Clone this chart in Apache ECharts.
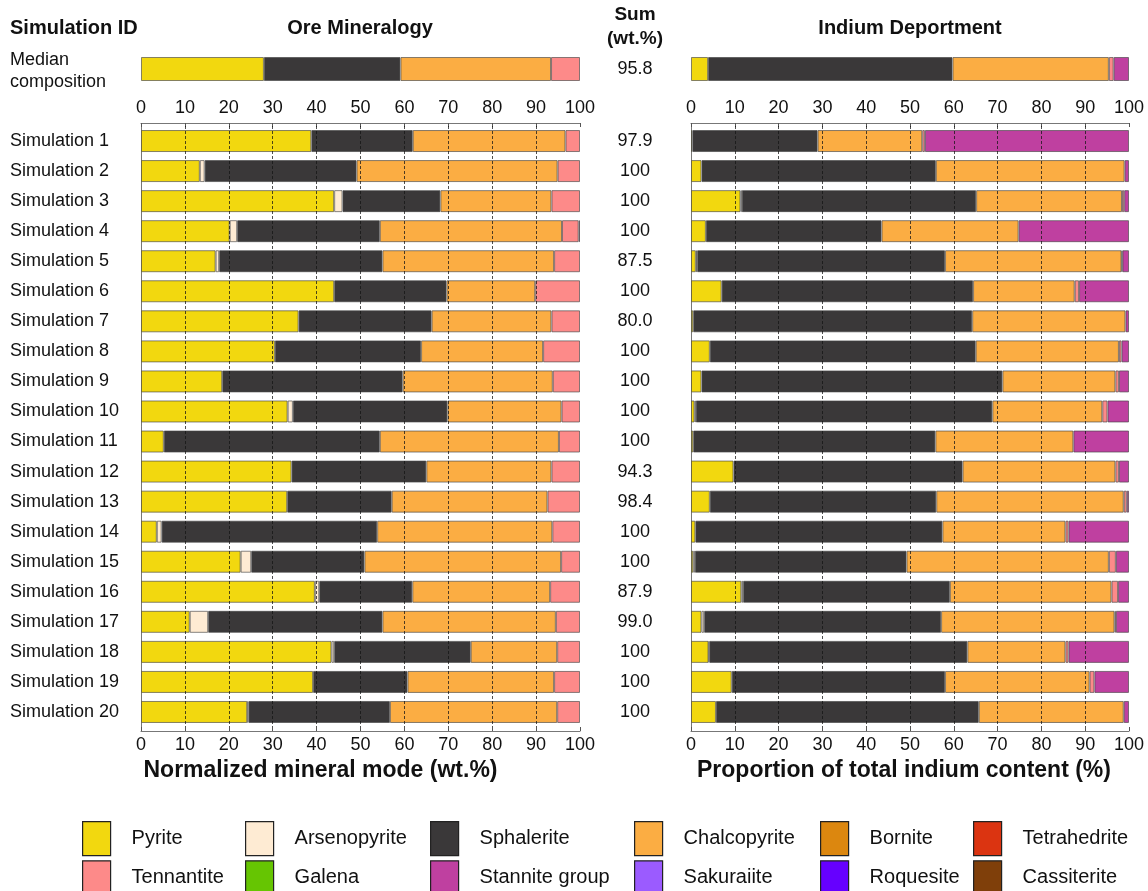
<!DOCTYPE html>
<html>
<head>
<meta charset="utf-8">
<script src="https://cdn.jsdelivr.net/npm/echarts@6/dist/echarts.min.js"></script>
<style>
  html, body { margin: 0; padding: 0; background: #fff; }
  #chart { width: 1148px; height: 891px; }
</style>
</head>
<body>
<div id="chart"></div>
<script>
// Mineral classes, in stacking order
const minerals = ['Pyrite', 'Arsenopyrite', 'Sphalerite', 'Chalcopyrite', 'Bornite', 'Tetrahedrite',
                  'Tennantite', 'Galena', 'Stannite group', 'Sakuraiite', 'Roquesite', 'Cassiterite'];
const mineralColors = ['#F2D80F', '#FEEBD3', '#3A3839', '#FBAD43', '#DC870F', '#DB3411',
                       '#FD8A89', '#66C502', '#BF40A0', '#9B5BFF', '#6600FF', '#7F3F0A'];

const simIds = ['Simulation 1', 'Simulation 2', 'Simulation 3', 'Simulation 4', 'Simulation 5',
  'Simulation 6', 'Simulation 7', 'Simulation 8', 'Simulation 9', 'Simulation 10',
  'Simulation 11', 'Simulation 12', 'Simulation 13', 'Simulation 14', 'Simulation 15',
  'Simulation 16', 'Simulation 17', 'Simulation 18', 'Simulation 19', 'Simulation 20'];
const sumLabels = ['97.9', '100', '100', '100', '87.5', '100', '80.0', '100', '100', '100',
  '100', '94.3', '98.4', '100', '100', '87.9', '99.0', '100', '100', '100'];
const medianLabel = 'Median\ncomposition';
const medianSum = '95.8';
const xTicks = [0, 10, 20, 30, 40, 50, 60, 70, 80, 90, 100];

// Normalized mineral mode (wt.%), per simulation
const modePyrite       = [38.8, 13.4, 44.0, 20.2, 17.0, 44.0, 35.9, 30.5, 18.5, 33.4, 5.2, 34.3, 33.3, 3.6, 22.7, 39.6, 11.1, 43.4, 39.2, 24.2];
const modeArsenopyrite = [0, 1.1, 1.9, 1.7, 0.8, 0, 0, 0, 0, 1.2, 0, 0, 0, 1.1, 2.4, 1.0, 4.2, 0.6, 0, 0.3];
const modeSphalerite   = [23.1, 34.6, 22.3, 32.5, 37.2, 25.6, 30.3, 33.3, 41.1, 35.2, 49.2, 30.7, 23.8, 49.1, 25.8, 21.2, 39.7, 31.1, 21.5, 32.2];
const modeChalcopyrite = [34.8, 45.8, 25.3, 41.5, 39.1, 20.2, 27.3, 27.8, 34.2, 26.0, 40.8, 28.5, 35.5, 39.9, 44.8, 31.4, 39.5, 19.7, 33.4, 38.1];
const modeTennantite   = [3.3, 5.1, 6.5, 3.8, 5.9, 10.2, 6.5, 8.4, 6.2, 4.2, 4.8, 6.5, 7.4, 6.3, 4.3, 6.8, 5.5, 5.2, 5.9, 5.2];
const modeStannite     = [0, 0, 0, 0.3, 0, 0, 0, 0, 0, 0, 0, 0, 0, 0, 0, 0, 0, 0, 0, 0];
// Median composition, one value per mineral class
const medianMode = [28.0, 0, 31.1, 34.3, 0, 0, 6.6, 0, 0, 0, 0, 0];

// Proportion of total indium content (%), per simulation
const inPyrite       = [0.3, 2.4, 11.3, 3.4, 1.1, 7.0, 0.5, 4.3, 2.4, 0.8, 0.5, 9.7, 4.3, 1.0, 0.5, 11.5, 2.4, 4.0, 9.3, 5.7];
const inArsenopyrite = [0, 0, 0.3, 0, 0.3, 0, 0, 0, 0, 0.3, 0, 0, 0, 0, 0.4, 0.4, 0.6, 0.2, 0, 0];
const inSphalerite   = [28.6, 53.5, 53.5, 40.1, 56.6, 57.4, 63.7, 60.7, 68.7, 67.7, 55.3, 52.3, 51.7, 56.4, 48.3, 47.2, 54.1, 58.9, 48.7, 60.0];
const inChalcopyrite = [23.9, 43.1, 33.3, 31.3, 40.3, 23.2, 35.0, 32.7, 25.8, 25.1, 31.5, 34.9, 42.8, 28.1, 46.2, 36.9, 39.6, 22.4, 33.0, 33.1];
const inTennantite   = [0.6, 0, 0.5, 0, 0.2, 1.0, 0, 0.6, 0.8, 1.2, 0, 0.8, 0.7, 0.7, 1.6, 1.5, 0.3, 0.7, 1.1, 0];
const inStannite     = [46.6, 1.0, 1.1, 25.2, 1.5, 11.4, 0.8, 1.7, 2.3, 4.9, 12.7, 2.3, 0.5, 13.8, 3.0, 2.5, 3.0, 13.8, 7.9, 1.2];
const medianIn = [3.9, 0, 55.8, 35.7, 0, 0, 1.1, 0, 3.5, 0, 0, 0];

// Look-up of the per-simulation arrays by mineral; absent classes have no bars
const modeByMineral = {
  'Pyrite': modePyrite, 'Arsenopyrite': modeArsenopyrite, 'Sphalerite': modeSphalerite,
  'Chalcopyrite': modeChalcopyrite, 'Tennantite': modeTennantite, 'Stannite group': modeStannite
};
const inByMineral = {
  'Pyrite': inPyrite, 'Arsenopyrite': inArsenopyrite, 'Sphalerite': inSphalerite,
  'Chalcopyrite': inChalcopyrite, 'Tennantite': inTennantite, 'Stannite group': inStannite
};

const FONT = "'Liberation Sans', Arial, Helvetica, sans-serif";
const FS = 18;      // axis and row labels
const FS_HEAD = 20; // bold headers
const FS_NAME = 23; // bold axis names
const FS_LEG = 20;  // legend entries
const blank = v => (v > 0 ? v : '-');

const chart = echarts.init(document.getElementById('chart'), null, { renderer: 'canvas' });

const barStyle = color => ({ color, borderColor: 'rgba(70,70,70,0.65)', borderWidth: 1 });

const series = [];
minerals.forEach((m, i) => {
  const color = mineralColors[i];
  const modeArr = modeByMineral[m] || simIds.map(() => 0);
  const inArr = inByMineral[m] || simIds.map(() => 0);
  series.push(
    { name: m, type: 'bar', stack: 'modeMed', xAxisIndex: 0, yAxisIndex: 0, barWidth: 24,
      itemStyle: barStyle(color), data: [blank(medianMode[i])] },
    { name: m, type: 'bar', stack: 'modeSim', xAxisIndex: 1, yAxisIndex: 2, barWidth: 22,
      itemStyle: barStyle(color), data: modeArr.map(blank) },
    { name: m, type: 'bar', stack: 'inMed', xAxisIndex: 3, yAxisIndex: 4, barWidth: 24,
      itemStyle: barStyle(color), data: [blank(medianIn[i])] },
    { name: m, type: 'bar', stack: 'inSim', xAxisIndex: 4, yAxisIndex: 5, barWidth: 22,
      itemStyle: barStyle(color), data: inArr.map(blank) }
  );
});

// Dashed reference lines drawn above the bars at every inner tick
const innerTicks = xTicks.filter(v => v > 0 && v < 100);
[[1, 2], [4, 5]].forEach(([xi, yi]) => {
  series.push({
    type: 'line', xAxisIndex: xi, yAxisIndex: yi, data: [], z: 10, silent: true,
    markLine: {
      silent: true, symbol: 'none', animation: false,
      label: { show: false },
      lineStyle: { type: [3, 2], color: 'rgba(20,20,20,0.75)', width: 1 },
      data: innerTicks.map(v => ({ xAxis: v }))
    }
  });
});

const hiddenX = gi => ({
  type: 'value', gridIndex: gi, min: 0, max: 100, show: false
});
const tickX = (gi, pos, name, namePad) => ({
  type: 'value', gridIndex: gi, position: pos, min: 0, max: 100, interval: 10,
  offset: pos === 'top' ? 3 : 4,
  axisLine: { show: true, lineStyle: { color: '#777', width: 1 } },
  axisTick: { show: true, inside: true, length: 4, lineStyle: { color: '#555' } },
  splitLine: { show: false },
  axisLabel: { show: true, color: '#111', fontFamily: FONT, fontSize: FS, margin: pos === 'top' ? 6 : 5 },
  name: name || '', nameLocation: 'middle', nameGap: 21,
  nameTextStyle: { color: '#111', fontFamily: FONT, fontSize: FS_NAME, fontWeight: 'bold',
                   padding: namePad || 0 }
});
const catY = (gi, data, opts) => Object.assign({
  type: 'category', gridIndex: gi, data,
  axisTick: { show: false },
  axisLine: { show: false },
  splitLine: { show: false },
  axisLabel: { show: false }
}, opts);
const labelStyle = extra => Object.assign({
  show: true, color: '#111', fontFamily: FONT, fontSize: FS
}, extra);
const frameLine = { show: true, lineStyle: { color: '#777', width: 1 } };
const headStyle = { fontFamily: FONT, fontSize: FS_HEAD, fontWeight: 'bold', color: '#111' };

const legendCols = [0, 1, 2, 3, 4, 5].map(c => [minerals[c], minerals[c + 6]]);
const legendLeft = [82, 245, 430, 634, 820, 973];

const option = {
  animation: false,
  backgroundColor: '#ffffff',
  textStyle: { fontFamily: FONT },
  title: [
    { text: 'Simulation ID', left: 10, top: 18, padding: 0, textStyle: headStyle },
    { text: 'Ore Mineralogy', left: 360, top: 18, padding: 0, textAlign: 'center', textStyle: headStyle },
    { text: 'Sum\n(wt.%)', left: 635, top: 3, padding: 0, textAlign: 'center',
      textStyle: Object.assign({}, headStyle, { fontSize: 19, lineHeight: 24 }) },
    { text: 'Indium Deportment', left: 910, top: 18, padding: 0, textAlign: 'center', textStyle: headStyle },
    { text: medianLabel, left: 10, top: 49, padding: 0,
      textStyle: { fontFamily: FONT, fontSize: FS, fontWeight: 'normal', color: '#111', lineHeight: 22 } }
  ],
  grid: [
    { left: 141, width: 439, top: 57, height: 24 },
    { left: 141, width: 439, top: 126, height: 601 },
    { left: 691, width: 438, top: 57, height: 24 },
    { left: 691, width: 438, top: 126, height: 601 }
  ],
  xAxis: [
    hiddenX(0),
    tickX(1, 'top'),
    tickX(1, 'bottom', 'Normalized mineral mode (wt.%)', [0, 80, 0, 0]),
    hiddenX(2),
    tickX(3, 'top'),
    tickX(3, 'bottom', 'Proportion of total indium content (%)', [0, 12, 0, 0])
  ],
  yAxis: [
    catY(0, [medianLabel], { position: 'left' }),
    catY(0, [medianSum], { position: 'right',
      axisLabel: labelStyle({ align: 'center', margin: 55 }) }),
    catY(1, simIds, { position: 'left', inverse: true, axisLine: frameLine,
      axisLabel: labelStyle({ align: 'left', margin: 131 }) }),
    catY(1, sumLabels, { position: 'right', inverse: true, axisLine: frameLine,
      axisLabel: labelStyle({ align: 'center', margin: 55 }) }),
    catY(2, [medianLabel], { position: 'left' }),
    catY(3, simIds, { position: 'left', inverse: true, axisLine: frameLine }),
    catY(3, simIds, { position: 'right', inverse: true, axisLine: frameLine })
  ],
  legend: legendCols.map((names, c) => ({
    data: names,
    orient: 'vertical',
    left: legendLeft[c],
    top: 821,
    height: 120,
    padding: 0,
    itemWidth: 28,
    itemHeight: 34,
    itemGap: 4,
    icon: 'rect',
    selectedMode: false,
    itemStyle: { borderColor: '#222', borderWidth: 1.2 },
    textStyle: { fontFamily: FONT, fontSize: FS_LEG, color: '#111', padding: [0, 0, 0, 16] }
  })),
  series
};

chart.setOption(option);
</script>
</body>
</html>
